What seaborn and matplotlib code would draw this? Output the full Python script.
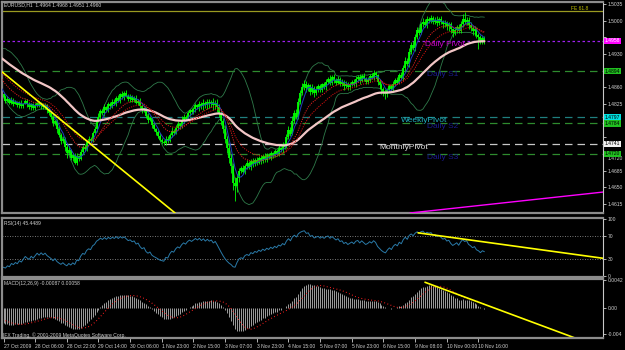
import numpy as np
import pandas as pd
import matplotlib
matplotlib.use("Agg")
import matplotlib.pyplot as plt
import matplotlib.transforms as mtrans
import seaborn as sns

sns.set_theme(style="dark")
plt.rcParams["font.family"] = ["Liberation Sans", "DejaVu Sans"]

# ---------------- data (pips above 1.4000) ----------------
history_pips = [985, 980, 988, 982, 976, 980, 972, 968, 975, 970,
                965, 970, 962, 958, 964, 955, 950, 956, 948, 945,
                950, 942, 938, 944, 935, 930, 936, 928, 925, 930,
                922, 918, 924, 915, 910, 916, 908, 905, 910, 900,
                902, 895, 898, 890, 880, 872, 866, 858, 850, 845]

close_pips = [840, 832, 836, 828, 834, 826, 830, 822,
              828, 820, 826, 832, 824, 818, 825, 816,
              822, 828, 820, 826, 818, 822, 812, 805,
              798, 785, 790, 772, 760, 748, 752, 735,
              722, 728, 712, 718, 702, 715, 710, 725,
              735, 730, 745, 752, 748, 765, 772, 790,
              798, 810, 805, 818, 812, 825, 820, 830,
              826, 838, 832, 845, 840, 848, 842, 836,
              840, 834, 838, 828, 832, 820, 812, 816,
              800, 792, 796, 780, 772, 766, 758, 750,
              746, 742, 752, 748, 760, 768, 764, 775,
              782, 778, 790, 798, 794, 805, 812, 808,
              815, 822, 818, 826, 820, 828, 822, 830,
              825, 830, 822, 828, 818, 805, 790, 772,
              752, 732, 712, 695, 660, 652, 670, 685,
              690, 682, 695, 700, 692, 705, 698, 708,
              702, 712, 705, 715, 708, 718, 712, 722,
              716, 726, 720, 732, 728, 740, 735, 755,
              770, 762, 790, 805, 798, 830, 848, 860,
              868, 858, 864, 850, 858, 848, 856, 862,
              855, 866, 860, 872, 878, 870, 882, 876,
              870, 878, 868, 872, 862, 868, 860, 866,
              872, 866, 878, 882, 874, 884, 878, 872,
              876, 884, 880, 890, 885, 872, 864, 856,
              850, 846, 855, 862, 856, 868, 875, 870,
              885, 880, 900, 915, 908, 935, 948, 942,
              965, 980, 975, 992, 998, 990, 1003, 1000,
              1006, 998, 1002, 996, 1003, 998, 992, 996,
              988, 992, 982, 975, 980, 986, 978, 992,
              1004, 998, 1002, 990, 985, 978, 982, 970,
              966, 958, 964, 960]

wick_up = [4, 3, 5, 2, 6, 3, 4, 2, 3, 5, 2, 4, 3, 6, 2, 3,
           5, 2, 4, 3, 2, 6, 3, 4, 3, 5, 2, 4, 6, 3, 5, 4,
           6, 8, 3, 5, 4, 7, 3, 5, 4, 6, 3, 5, 4, 3, 6, 5,
           7, 5, 4, 6, 3, 5, 4, 6, 5, 3, 6, 4, 8, 5, 7, 4,
           5, 3, 4, 6, 3, 5, 4, 2, 3, 5, 4, 2, 6, 3, 4, 5,
           3, 4, 5, 6, 4, 8, 5, 6, 7, 4, 9, 5, 4, 6, 3, 5,
           4, 6, 3, 5, 4, 7, 3, 5, 6, 4, 8, 5, 7, 6, 9, 5,
           8, 6, 10, 7, 6, 12, 8, 6, 5, 7, 4, 8, 6, 5, 7, 4,
           6, 3, 5, 4, 6, 3, 5, 4, 3, 5, 4, 6, 3, 5, 7, 6,
           8, 6, 9, 7, 10, 8, 6, 9, 7, 5, 6, 4, 8, 5, 6, 4,
           5, 4, 6, 5, 3, 7, 4, 6, 4, 6, 3, 5, 4, 6, 3, 5,
           4, 5, 6, 3, 5, 4, 6, 3, 5, 4, 7, 6, 5, 4, 6, 5,
           4, 6, 3, 5, 4, 6, 5, 7, 6, 8, 7, 9, 6, 8, 7, 9,
           8, 6, 7, 5, 8, 6, 7, 5, 6, 4, 5, 7, 4, 6, 3, 5,
           4, 6, 5, 3, 6, 5, 7, 8, 9, 14, 6, 5, 7, 4, 6, 5,
           5, 4, 4, 4]

wick_dn = [3, 5, 2, 4, 3, 6, 2, 4, 5, 3, 4, 2, 6, 3, 5, 4,
           3, 4, 2, 5, 3, 4, 6, 3, 4, 6, 5, 7, 5, 8, 6, 9,
           10, 5, 4, 6, 3, 5, 4, 3, 5, 3, 4, 2, 5, 3, 4, 6,
           3, 5, 4, 6, 3, 4, 5, 3, 4, 6, 3, 5, 4, 6, 3, 5,
           6, 4, 5, 3, 6, 4, 5, 3, 4, 6, 3, 5, 4, 6, 5, 3,
           5, 3, 4, 6, 3, 5, 4, 3, 4, 5, 3, 6, 4, 3, 5, 4,
           5, 6, 4, 7, 5, 8, 6, 7, 8, 6, 9, 7, 10, 8, 9, 7,
           8, 10, 12, 14, 16, 30, 12, 8, 6, 4, 5, 7, 4, 6, 5, 3,
           5, 4, 6, 3, 5, 4, 3, 5, 4, 3, 5, 4, 3, 5, 4, 3,
           4, 5, 3, 6, 4, 5, 6, 4, 6, 8, 5, 7, 4, 8, 5, 6,
           4, 5, 3, 6, 4, 5, 6, 7, 5, 4, 6, 5, 7, 4, 6, 5,
           4, 3, 5, 4, 6, 3, 5, 4, 5, 4, 3, 5, 6, 8, 7, 9,
           8, 10, 6, 5, 4, 3, 5, 4, 3, 5, 4, 6, 3, 5, 4, 3,
           5, 4, 6, 3, 5, 4, 6, 5, 4, 6, 5, 7, 5, 6, 8, 6,
           7, 9, 8, 10, 6, 5, 4, 3, 5, 6, 7, 8, 6, 9, 10, 7,
           25, 8, 6, 9]

date_labels = ["27 Oct 2009", "28 Oct 06:00", "28 Oct 22:00", "29 Oct 14:00",
               "30 Oct 06:00", "1 Nov 23:00", "2 Nov 15:00", "3 Nov 07:00",
               "3 Nov 23:00", "4 Nov 15:00", "5 Nov 07:00", "5 Nov 23:00",
               "6 Nov 15:00", "9 Nov 08:00", "10 Nov 00:00", "10 Nov 16:00"]
bars_per_label = 16

price_ticks = [1.5035, 1.5000, 1.4965, 1.4930, 1.4895, 1.4860, 1.4825,
               1.4790, 1.4755, 1.4720, 1.4685, 1.4650, 1.4615]
price_tick_labels = ["1.5035", "1.5000", "", "1.4930", "", "1.4860", "1.4825",
                     "", "", "1.4720", "1.4685", "1.4650", "1.4615"]

level_prices = [1.5020, 1.4958, 1.4894, 1.4797, 1.4784, 1.4741, 1.4720]
level_names = ["FE 61.8", "Daily Pivot", "Daily S1", "WeeklyPivot",
               "Daily S2", "MonthlyPivot", "Daily S3"]
level_box = ["", "1.4958", "1.4894", "1.4797", "1.4784", "1.4741", "1.4720"]

# hand drawn trend lines (bar index, value)
tl_main_yellow = ([-1.8, 86.7], [1.4896, 1.4596])
tl_main_magenta = ([205.4, 303.0], [1.4596, 1.4640])
tl_rsi_yellow = ([209.5, 303.0], [75.2, 31.0])
tl_macd_yellow = ([213.0, 288.8], [0.0039, -0.0046])

header_main = "EURUSD,H1  1.4964 1.4968 1.4951 1.4960"
header_rsi = "RSI(14) 45.4489"
header_macd = "MACD(12,26,9) -0.00087 0.00058"
copyright_txt = "IFX Trading, \u00a9 2001-2009 MetaQuotes Software Corp."

# ---------------- derived series ----------------
nh = len(history_pips)
allc = 1.4 + np.array(history_pips + close_pips) / 10000.0
idx = np.arange(len(allc)) - nh
s = pd.Series(allc, index=idx)

closes = s.loc[0:].values
opens = s.shift(1).loc[0:].values
highs = np.maximum(opens, closes) + np.array(wick_up) / 10000.0
lows = np.minimum(opens, closes) - np.array(wick_dn) / 10000.0
bx = np.arange(len(closes))

ema = lambda n: s.ewm(span=n, adjust=False).mean()
ma_blue = s.rolling(5).mean()
ema_r1 = ema(13)
ema_r2 = ema(21)
ema_pink = ema(50)
bb_mid = s.rolling(20).mean()
bb_sd = s.rolling(20).std(ddof=0)
bb_up = bb_mid + 2 * bb_sd
bb_lo = bb_mid - 2 * bb_sd

d = s.diff()
up = d.clip(lower=0).ewm(alpha=1 / 14, adjust=False).mean()
dn = (-d.clip(upper=0)).ewm(alpha=1 / 14, adjust=False).mean()
rsi = 100 - 100 / (1 + up / dn)

macd = ema(12) - ema(26)
signal = macd.rolling(9).mean()

# ---------------- figure ----------------
W, H = 625, 350
fig = plt.figure(figsize=(W / 100, H / 100), dpi=100, facecolor="black")
SMALL = 3.6
TXT = "#d0d0d0"


def ax_at(l, t, r, b):
    a = fig.add_axes([l / W, 1 - b / H, (r - l) / W, (b - t) / H])
    a.set_facecolor("black")
    for sp in a.spines.values():
        sp.set_color("#8c8c8c")
        sp.set_linewidth(1.6)
    a.spines["right"].set_color("#c8c8c8")
    a.spines["right"].set_linewidth(0.8)
    a.grid(False)
    return a


ax_m = ax_at(2, 2, 603, 213)
ax_r = ax_at(2, 218, 603, 277)
ax_d = ax_at(2, 279, 603, 338)

px_per_bar = 1.979
xl = ((2 - 3.5) / px_per_bar, (603 - 3.5) / px_per_bar)
for a in (ax_m, ax_r, ax_d):
    a.set_xlim(*xl)
    a.yaxis.tick_right()
    a.tick_params(axis="y", colors=TXT, labelsize=SMALL, length=2,
                  width=0.6, pad=1.2, direction="out")
    a.tick_params(axis="x", bottom=False, labelbottom=False)

# ---- main ----
ax_m.set_ylim(1.4596, 1.50392)
ax_m.set_yticks(price_ticks)
ax_m.set_yticklabels(price_tick_labels)
for lab in ax_m.get_yticklabels():
    if lab.get_text() == "1.4720":
        lab.set_transform(lab.get_transform() +
                          mtrans.ScaledTranslation(0, -4 / 100, fig.dpi_scale_trans))

lvl_colors = ["#9a9a20", "#a020f0", "#2e8b2e", "#1f7f7f", "#2e8b2e", "#c8c8c8", "#2e8b2e"]
lvl_ls = ["-", (0, (2, 2)), (0, (6, 4)), (0, (6, 4)), (0, (6, 4)), (0, (6, 4)), (0, (6, 4))]
for p, c, ls in zip(level_prices, lvl_colors, lvl_ls):
    ax_m.axhline(p, color=c, lw=0.9, ls=ls, zorder=1)

sns.lineplot(x=idx, y=bb_up.values, ax=ax_m, color="#2f7a4a", lw=0.6, legend=False)
sns.lineplot(x=idx, y=bb_lo.values, ax=ax_m, color="#2f7a4a", lw=0.6, legend=False)

ax_m.vlines(bx, lows, highs, color="#00ff00", lw=0.6, zorder=3)
ax_m.vlines(bx, np.minimum(opens, closes), np.maximum(opens, closes),
            color="#00ff00", lw=1.3, zorder=3)

sns.lineplot(x=idx, y=ema_pink.values, ax=ax_m, color="#f2c6c6", lw=1.6, legend=False, zorder=5)
sns.lineplot(x=idx, y=ema_r2.values, ax=ax_m, color="#d01010", lw=0.7, ls=(0, (1.2, 1.2)), legend=False, zorder=5)
sns.lineplot(x=idx, y=ema_r1.values, ax=ax_m, color="#e02020", lw=0.7, ls=(0, (1.2, 1.2)), legend=False, zorder=5)
sns.lineplot(x=idx, y=ma_blue.values, ax=ax_m, color="#2040c0", lw=0.7, legend=False, zorder=4)

ax_m.plot(*tl_main_yellow, color="#ffff00", lw=1.2, zorder=6)
ax_m.plot(*tl_main_magenta, color="#ff00ff", lw=1.0, zorder=6)

lbl_x = [None, 213, 214, 201, 214, 190, 214]
lbl_col = ["#b0b000", "#c000c0", "#1a1a8c", "#20b0c0", "#1a1a8c", "#e0e0e0", "#1a1a8c"]
for i, (p, name) in enumerate(zip(level_prices, level_names)):
    if i == 0:
        ax_m.text(287, p, name, color="#c0c000", fontsize=SMALL, va="bottom", ha="left")
        continue
    ax_m.text(lbl_x[i], p, name, color=lbl_col[i], fontsize=6, va="top", ha="left", zorder=7)

box_bg = [None, "#ff00ff", "#20c020", "#00e0e0", "#20c020", "#f0f0f0", "#20c020"]
box_fg = [None, "white", "black", "black", "black", "black", "black"]
ytr = ax_m.get_yaxis_transform()
for i in range(1, len(level_prices)):
    ax_m.text(1.003, level_prices[i], level_box[i], transform=ytr, fontsize=SMALL,
              color=box_fg[i], va="center", ha="left", zorder=8, clip_on=False,
              bbox=dict(facecolor=box_bg[i], edgecolor="none", pad=0.4))

# ---- RSI ----
ax_r.set_ylim(-1.5, 101)
ax_r.set_yticks([100, 70, 30, 0])
ax_r.set_yticklabels(["100", "70", "30", "0"])
for v in (70, 30):
    ax_r.axhline(v, color="#a0a0a0", lw=0.6, ls=(0, (1, 2)))
sns.lineplot(x=idx, y=rsi.values, ax=ax_r, color="#2a7aa8", lw=0.7, legend=False)
ax_r.plot(*tl_rsi_yellow, color="#ffff00", lw=1.2)

# ---- MACD ----
ax_d.set_ylim(-0.0046, 0.0044)
ax_d.set_yticks([0.0042, 0.0, -0.004])
ax_d.set_yticklabels(["0.0042", "0.00", "-0.004"])
mv = macd.loc[0:].values
ax_d.vlines(bx, 0, mv, color="#b8b8b8", lw=0.6)
sns.lineplot(x=idx, y=signal.values, ax=ax_d, color="#ff2020", lw=0.8,
             ls=(0, (0.8, 2.2)), legend=False)
ax_d.plot(*tl_macd_yellow, color="#ffff00", lw=1.2)

ax_d.set_xticks(np.arange(len(date_labels)) * bars_per_label)
ax_d.set_xticklabels(date_labels)
ax_d.tick_params(axis="x", bottom=True, labelbottom=True, colors=TXT,
                 labelsize=SMALL, length=3, width=0.6, pad=1)
for t in ax_d.get_xticklabels():
    t.set_horizontalalignment("left")

for a in (ax_m, ax_r, ax_d):
    a.set_xlabel("")
    a.set_ylabel("")

# ---- header texts ----
fig.text(4 / W, 1 - 5 / H, header_main, color=TXT, fontsize=SMALL, va="center")
fig.text(4 / W, 1 - 223 / H, header_rsi, color=TXT, fontsize=SMALL, va="center")
fig.text(4 / W, 1 - 284 / H, header_macd, color=TXT, fontsize=SMALL, va="center")
fig.text(3 / W, 1 - 335 / H, copyright_txt, color=TXT, fontsize=SMALL, va="center")

fig.savefig("out.png", dpi=100, facecolor="black")
